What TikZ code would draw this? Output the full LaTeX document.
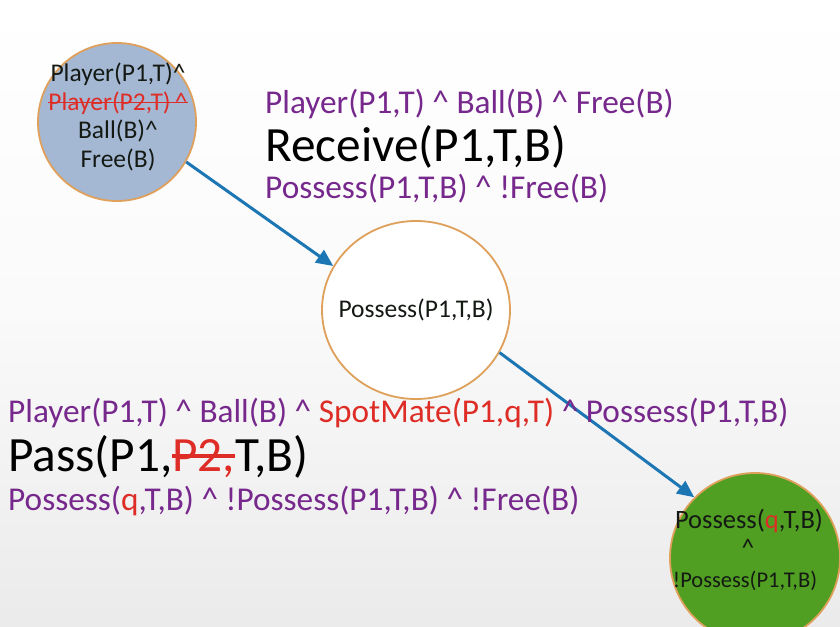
\documentclass[tikz,border=0pt]{standalone}
\usepackage{fontspec}
\setmainfont{Carlito}
\usetikzlibrary{arrows.meta,shapes.geometric}
\definecolor{purp}{RGB}{118,40,140}
\definecolor{redc}{RGB}{222,45,38}
\definecolor{ringc}{RGB}{222,160,90}
\definecolor{bluec}{RGB}{164,184,212}
\definecolor{greenc}{RGB}{80,158,34}
\definecolor{arrowc}{RGB}{28,118,180}
\definecolor{darktext}{RGB}{20,25,20}
\newcommand\mystrk[1]{\setbox0=\hbox{#1}\rlap{\raisebox{0.27em}{\rule{\wd0}{0.075em}}}\box0}
\tikzset{
  state/.style={draw=ringc, line width=1.8pt, inner sep=0pt},
  small/.style={anchor=base west, inner sep=0pt, text=purp, font=\fontsize{33.3}{37}\selectfont},
  big/.style={anchor=base west, inner sep=0pt, text=black, font=\fontsize{49.3}{54}\selectfont},
  ctext/.style={inner sep=0pt, align=center, text=darktext, font=\fontsize{25.5}{28.5}\selectfont},
  conn/.style={draw=arrowc, line width=3pt, -{Triangle[length=17pt,width=15pt]}}
}
\begin{document}
\begin{tikzpicture}[x=1pt,y=-1pt]
\useasboundingbox (0,0) rectangle (840,626);
\clip (0,0) rectangle (840,626);
\shade[top color=white, bottom color=gray!16, middle color=white!96!gray] (0,0) rectangle (840,626);

\node[state, circle, fill=bluec, minimum size=158pt] (s0) at (117,122) {};
\node[ctext] (s0t) at (118,117) {Player(P1,T)\^{}\\ \color{redc}\mystrk{Player(P2,T)\,\^{}}\\ Ball(B)\^{}\\ Free(B)};

\node[state, ellipse, fill=white, minimum width=188pt, minimum height=178pt] (s1) at (416,310) {};
\node[ctext] (s1t) at (416,310) {Possess(P1,T,B)};

\node[state, circle, fill=greenc, minimum size=170pt] (s2) at (755,558) {};
\node[ctext, anchor=base, font=\fontsize{26.5}{30}\selectfont] (s2a) at (749,528) {Possess({\color{redc}q},T,B)};
\node[ctext, anchor=base] (s2b) at (748,556) {\^{}};
\node[ctext, anchor=base, font=\fontsize{22.5}{26}\selectfont] (s2c) at (745,587) {!Possess(P1,T,B)};

\draw[conn] (s0.-30) -- (s1.152);
\draw[conn] (s1.-27) -- (s2.135);

\node[small] (pre1) at (265,113) {Player(P1,T) \^{} Ball(B) \^{} Free(B)};
\node[big] (act1) at (265,161) {Receive(P1,T,B)};
\node[small] (post1) at (265,198) {Possess(P1,T,B) \^{} !Free(B)};

\node[small] (pre2) at (8,422) {Player(P1,T) \^{} Ball(B) \^{} {\color{redc}SpotMate(P1,q,T)} \^{} Possess(P1,T,B)};
\node[big] (act2) at (8,471) {Pass(P1,{\color{redc}\mystrk{P2,}}T,B)};
\node[small] (post2) at (8,510) {Possess({\color{redc}q},T,B) \^{} !Possess(P1,T,B) \^{} !Free(B)};
\end{tikzpicture}
\end{document}
